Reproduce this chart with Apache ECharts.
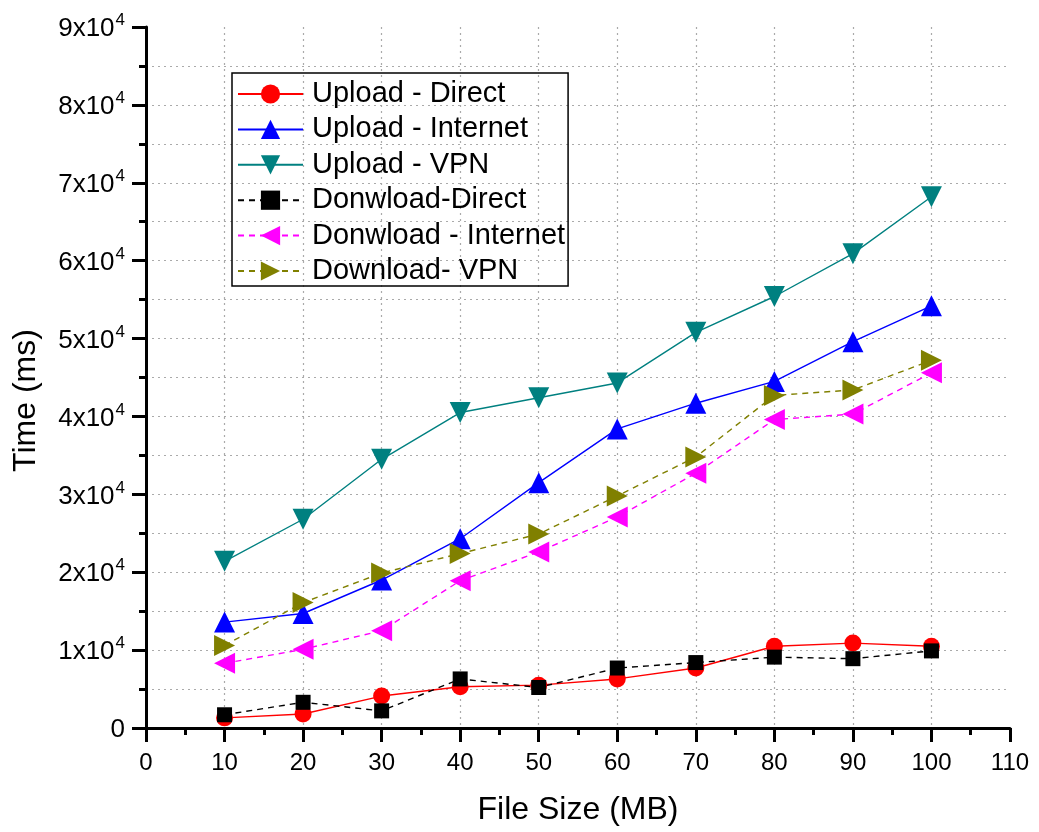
<!DOCTYPE html>
<html><head><meta charset="utf-8">
<script src="https://cdn.jsdelivr.net/npm/echarts@6/dist/echarts.min.js"></script>
<style>html,body{margin:0;padding:0;background:#fff}#c{width:1039px;height:832px}</style>
</head><body><div id="c"></div>
<script>
const fileSizes = [10, 20, 30, 40, 50, 60, 70, 80, 90, 100];
const uploadDirect   = [1300, 1800, 4100, 5300, 5500, 6300, 7700, 10500, 10900, 10500];
const uploadInternet = [13600, 14700, 19000, 24300, 31500, 38400, 41700, 44500, 49600, 54200];
const uploadVPN      = [21400, 26800, 34500, 40500, 42400, 44300, 50800, 55400, 60900, 68200];
const downloadDirect   = [1700, 3300, 2200, 6300, 5200, 7700, 8400, 9100, 8900, 9900];
const downloadInternet = [8300, 10100, 12500, 18900, 22600, 27100, 32700, 39600, 40300, 45600];
const downloadVPN      = [10600, 16100, 19900, 22400, 24900, 29800, 34800, 42700, 43400, 47200];
const seriesNames = ['Upload - Direct', 'Upload - Internet', 'Upload - VPN', 'Donwload-Direct', 'Donwload - Internet', 'Download- VPN'];

const FONT = '"Liberation Sans", Arial, sans-serif';
const gridDots = {show: true, lineStyle: {color: '#aaa', type: [2, 4], width: 1.2}};

function mk(name, data, color, symbol, rot, size, dashed) {
  return {
    name: name, type: 'line',
    data: fileSizes.map((x, i) => [x, data[i]]),
    symbol: symbol, symbolRotate: rot, symbolSize: size,
    itemStyle: {color: color},
    lineStyle: {color: color, width: 1.4, type: dashed ? [6, 5] : 'solid'},
    emphasis: {disabled: true}, animation: false
  };
}

const chart = echarts.init(document.getElementById('c'), null, {renderer: 'canvas'});
chart.setOption({
  backgroundColor: '#fff',
  animation: false,
  textStyle: {fontFamily: FONT},
  grid: {left: 146, right: 29, top: 27, bottom: 104, containLabel: false},
  legend: {
    orient: 'vertical', left: 232, top: 73,
    data: seriesNames,
    borderColor: '#000', borderWidth: 1.5,
    padding: [6, 3, 0, 5],
    itemWidth: 65, itemHeight: 24, itemGap: 5.4,
    textStyle: {fontSize: 29, lineHeight: 30, color: '#000', fontFamily: FONT, padding: [0, 0, 0, 4]}
  },
  xAxis: {
    type: 'value', min: 0, max: 110, interval: 10,
    name: 'File Size (MB)', nameLocation: 'middle', nameGap: 66,
    nameTextStyle: {fontSize: 32, color: '#000', fontFamily: FONT},
    axisLine: {show: true, onZero: false, lineStyle: {color: '#000', width: 3}},
    axisTick: {show: true, inside: false, length: 14, lineStyle: {color: '#000', width: 3}},
    minorTick: {show: true, splitNumber: 2, length: 7, lineStyle: {color: '#000', width: 3}},
    axisLabel: {fontSize: 24, color: '#000', margin: 23, fontFamily: FONT},
    splitLine: Object.assign({showMinLine: false, showMaxLine: false}, gridDots)
  },
  yAxis: {
    type: 'value', min: 0, max: 90000, interval: 10000,
    name: 'Time (ms)', nameLocation: 'middle', nameGap: 104,
    nameTextStyle: {fontSize: 32, color: '#000', fontFamily: FONT, padding: [0, 46, 0, 0]},
    axisLine: {show: true, onZero: false, lineStyle: {color: '#000', width: 3}},
    axisTick: {show: true, inside: false, length: 14, lineStyle: {color: '#000', width: 3}},
    minorTick: {show: true, splitNumber: 2, length: 7, lineStyle: {color: '#000', width: 3}},
    axisLabel: {
      fontSize: 26, color: '#000', margin: 21, fontFamily: FONT,
      formatter: function (v) { return v === 0 ? '{b|0}' : '{b|' + (v / 10000) + 'x10}{s|4}'; },
      rich: {
        b: {fontSize: 26, color: '#000', fontFamily: FONT, lineHeight: 30, verticalAlign: 'bottom'},
        s: {fontSize: 17, color: '#000', fontFamily: FONT, lineHeight: 30, verticalAlign: 'top', padding: [0, 0, 0, 1]}
      }
    },
    splitLine: Object.assign({showMinLine: false, showMaxLine: false}, gridDots),
    minorSplitLine: {show: true, lineStyle: {color: '#aaa', type: [2, 4], width: 1.2}}
  },
  series: [
    mk(seriesNames[0], uploadDirect, '#ff0000', 'circle', 0, 17, false),
    mk(seriesNames[1], uploadInternet, '#0000ff', 'triangle', 0, 21, false),
    mk(seriesNames[2], uploadVPN, '#008080', 'triangle', 180, 21, false),
    mk(seriesNames[3], downloadDirect, '#000000', 'rect', 0, 15, true),
    mk(seriesNames[4], downloadInternet, '#ff00ff', 'triangle', 90, 21, true),
    mk(seriesNames[5], downloadVPN, '#808000', 'triangle', -90, 21, true)
  ]
});
</script>
</body></html>
